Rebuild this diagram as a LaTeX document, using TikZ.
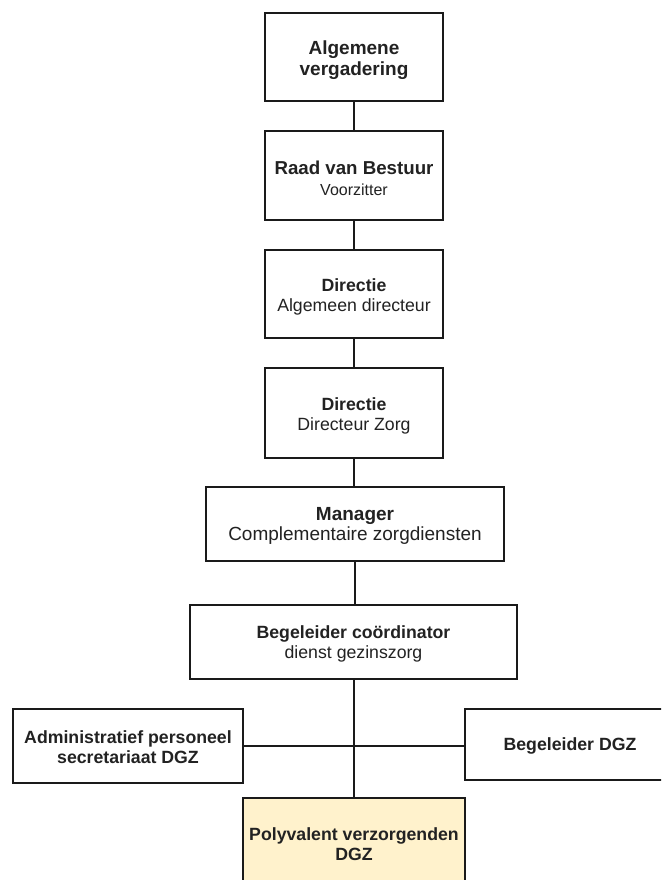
\documentclass[tikz,border=0pt]{standalone}
\usepackage{fontspec}
\setmainfont{Liberation Sans}
\definecolor{boxline}{HTML}{1A1A1A}
\definecolor{txt}{HTML}{222222}
\definecolor{paleyellow}{HTML}{FFF2CC}
\newcommand\fsA{\fontsize{17.7}{20.5}\selectfont}
\newcommand\fsB{\fontsize{19}{21}\selectfont}
\newcommand\fsC{\fontsize{16}{20}\selectfont}
\begin{document}
\begin{tikzpicture}[x=1pt,y=-1pt,
  orgbox/.style={draw=boxline, line width=1.1pt, fill=white, inner sep=0pt},
  boxtext/.style={inner sep=0pt, align=center, text=txt, font=\fsA},
  link/.style={draw=boxline, line width=1.1pt}]
\clip (0,0) rectangle (661,880);
\fill[white] (0,0) rectangle (661,880);

\node[orgbox, minimum width=178pt, minimum height=88pt] (b1) at (354,57) {};
\node[boxtext] (t1) at ([yshift=-3pt]b1.center)
  {\fsB\bfseries Algemene\\ \fsB\bfseries vergadering};
\node[orgbox, minimum width=178pt, minimum height=89pt] (b2) at (354,175.5) {};
\node[boxtext] (t2) at ([yshift=-3pt]b2.center)
  {\fontsize{18.7}{20.5}\selectfont\bfseries Raad van Bestuur\\ \fsC Voorzitter};
\node[orgbox, minimum width=178pt, minimum height=88pt] (b3) at (354,294) {};
\node[boxtext] (t3) at ([yshift=-3pt]b3.center)
  {\bfseries Directie\\ Algemeen directeur};
\node[orgbox, minimum width=178pt, minimum height=90pt] (b4) at (354,413) {};
\node[boxtext] (t4) at ([yshift=-3pt]b4.center)
  {\bfseries Directie\\ Directeur Zorg};
\node[orgbox, minimum width=298pt, minimum height=74pt] (b5) at (355,524) {};
\node[boxtext] (t5) at ([yshift=-2pt]b5.center)
  {\fsB\bfseries Manager\\ \fsB Complementaire zorgdiensten};
\node[orgbox, minimum width=327pt, minimum height=74pt] (b6) at (353.5,642) {};
\node[boxtext] (t6) at ([yshift=-2pt]b6.center)
  {\bfseries Begeleider coördinator\\ dienst gezinszorg};
\node[orgbox, minimum width=230pt, minimum height=74pt] (adm) at (128,746) {};
\node[boxtext] (t7) at ([yshift=-1pt]adm.center)
  {\bfseries Administratief personeel\\ \bfseries secretariaat DGZ};
\node[orgbox, minimum width=210pt, minimum height=71pt] (beg) at (570,744.5) {};
\node[boxtext] (t8) at ([yshift=-1pt]beg.center)
  {\bfseries Begeleider DGZ};
\node[orgbox, fill=paleyellow, minimum width=222pt, minimum height=90pt] (poly) at (354,843) {};
\node[boxtext] (t9) at ([yshift=-1pt]poly.center)
  {\bfseries Polyvalent verzorgenden\\ \bfseries DGZ};

\draw[link] (b1.south) -- (b2.north);
\draw[link] (b2.south) -- (b3.north);
\draw[link] (b3.south) -- (b4.north);
\draw[link] (b4.south) -- (b4.south |- b5.north);
\draw[link] (b5.south) -- (b5.south |- b6.north);
\draw[link] (b6.south) -- (b6.south -| poly.north) -- (poly.north);
\draw[link] (adm.east) -- (adm.east -| beg.west);
\end{tikzpicture}
\end{document}
